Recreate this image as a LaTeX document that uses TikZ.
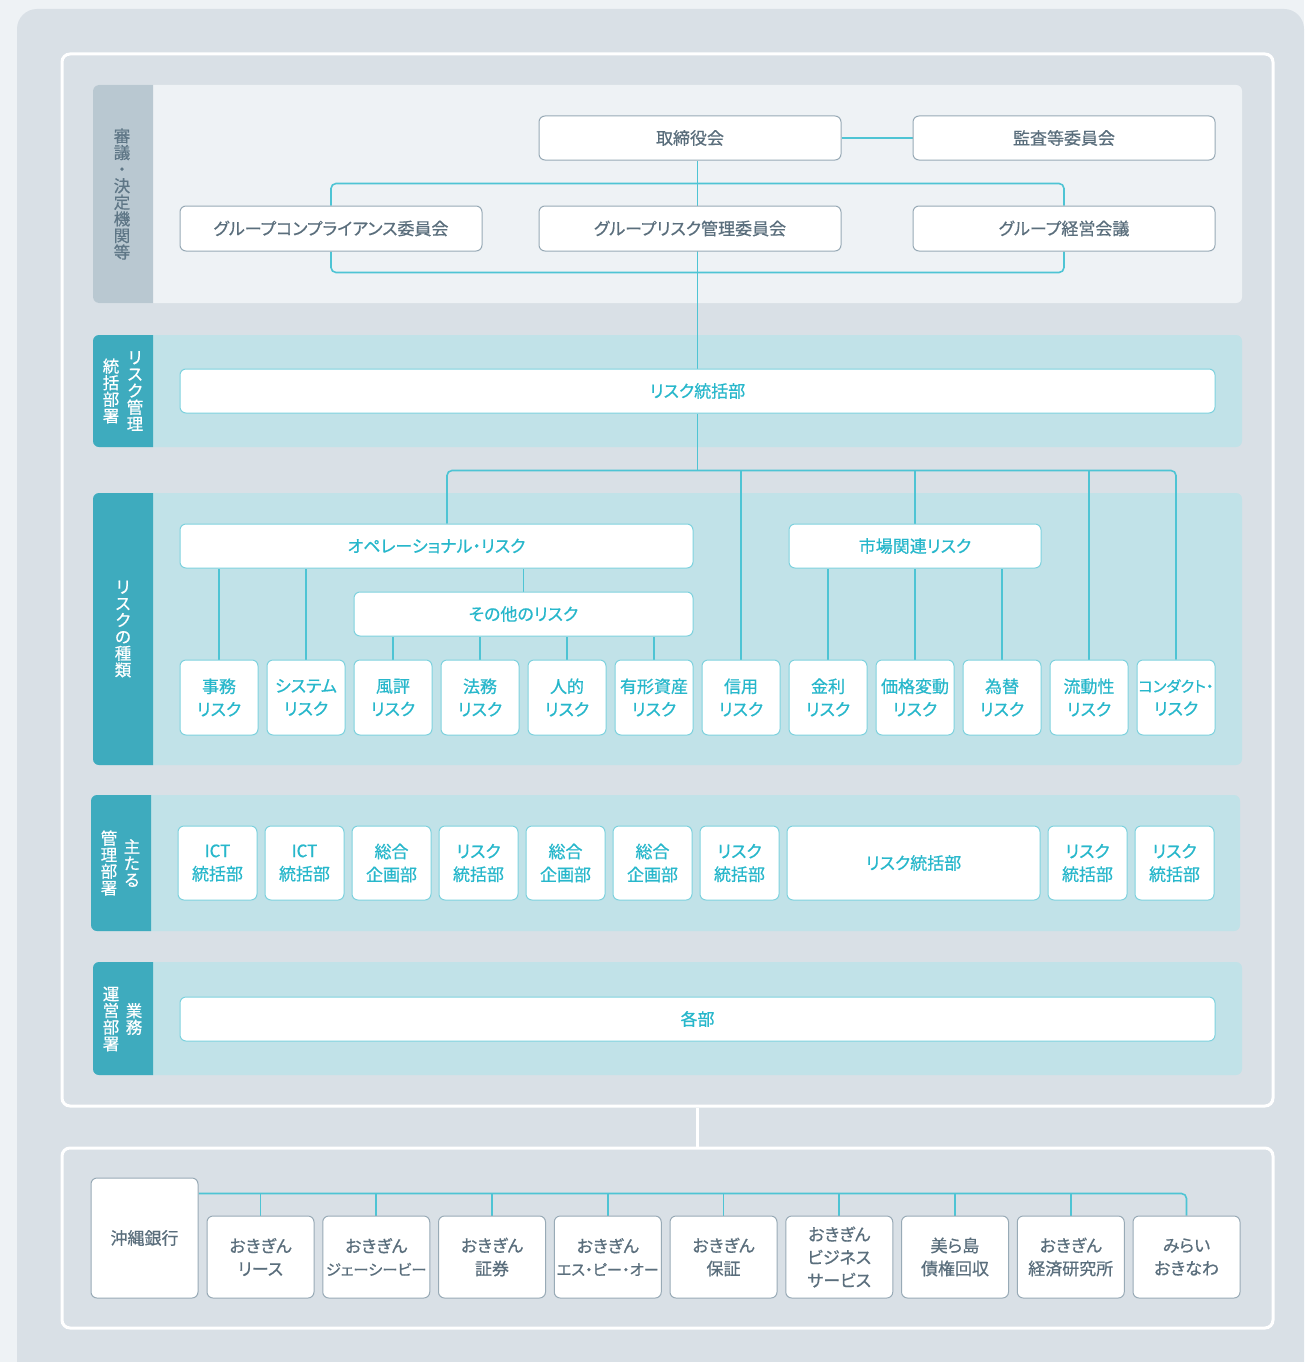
\documentclass[tikz,border=0pt]{standalone}
\usepackage{fontspec}
\usetikzlibrary{calc}
\setmainfont{Noto Sans CJK JP}[RawFeature=+palt, FakeBold=0.6]
\definecolor{pagebg}{HTML}{EEF2F5}
\definecolor{panel}{HTML}{D9E0E6}
\definecolor{bandA}{HTML}{EEF2F5}
\definecolor{labA}{HTML}{B9C8D1}
\definecolor{labAtext}{HTML}{5E7686}
\definecolor{bandT}{HTML}{C1E2E8}
\definecolor{labT}{HTML}{3EABBE}
\definecolor{conn}{HTML}{4EC4D4}
\definecolor{tealline}{HTML}{7ED2DE}
\definecolor{tealtext}{HTML}{27B7CB}
\definecolor{grayline}{HTML}{98AAB6}
\definecolor{graytext}{HTML}{5A6E7C}
\pgfdeclarelayer{back}
\pgfdeclarelayer{lines}
\pgfsetlayers{back,lines,main}
% band with a coloured label column on the left
\newcommand\drawband[6]{%
  \fill[#5, rounded corners=6] (#1,#2) rectangle (#3,#4);
  \begin{scope}
    \clip (#1,#2) rectangle (#1+60,#4);
    \fill[#6, rounded corners=6] (#1,#2) rectangle (#1+80,#4);
  \end{scope}}
\tikzset{
  basebox/.style={fill=white, rounded corners=6, line width=1pt, inner sep=0pt,
    align=center, font=\fontsize{17}{23}\selectfont},
  graybox/.style={basebox, draw=grayline, text=graytext},
  tealbox/.style={basebox, draw=tealline, text=tealtext},
  wide/.style={minimum width=1035, minimum height=44},
  topbox/.style={graybox, minimum width=302, minimum height=44},
  riskbox/.style={tealbox, minimum width=78, minimum height=75},
  deptbox/.style={tealbox, minimum width=79, minimum height=74},
  kidbox/.style={graybox, minimum width=107, minimum height=82},
  link/.style={draw=conn, line width=1.6pt},
  frameline/.style={draw=white, line width=3pt, rounded corners=8},
  tate/.style={align=center, inner sep=0pt, font=\fontsize{16.5}{16.6}\selectfont},
}
\begin{document}
\begin{tikzpicture}[x=1pt, y=-1pt]
\useasboundingbox (0,0) rectangle (1304,1362);

% ---------- backgrounds and bands ----------
\begin{pgfonlayer}{back}
  \fill[pagebg] (0,0) rectangle (1304,1362);
  \fill[panel, rounded corners=20] (17,9) rectangle (1304,1400);
  \drawband{93}{85}{1242}{303}{bandA}{labA}
  \drawband{93}{335}{1242}{447}{bandT}{labT}
  \drawband{93}{493}{1242}{765}{bandT}{labT}
  \drawband{91}{795}{1240}{931}{bandT}{labT}
  \drawband{93}{962}{1242}{1075}{bandT}{labT}
\end{pgfonlayer}

% ---------- white frames ----------
\node[frameline, minimum width=1211, minimum height=1052, inner sep=0pt] (upper) at (667.5,580) {};
\node[frameline, minimum width=1211, minimum height=180, inner sep=0pt] (lower) at (667.5,1238) {};

% ---------- band labels (vertical text) ----------
\node[tate, text=labAtext] (labA) at (122,194) {審\\議\\・\\決\\定\\機\\関\\等};
\node[tate, text=white] (labB1) at (135,391) {リ\\ス\\ク\\管\\理};
\node[tate, text=white] (labB2) at (111,391) {統\\括\\部\\署};
\node[tate, text=white] (labC) at (123,629) {リ\\ス\\ク\\の\\種\\類};
\node[tate, text=white] (labD1) at (132,863) {主\\た\\る};
\node[tate, text=white] (labD2) at (109,863) {管\\理\\部\\署};
\node[tate, text=white] (labE1) at (134,1019) {業\\務};
\node[tate, text=white] (labE2) at (111,1019) {運\\営\\部\\署};

% ---------- decision bodies ----------
\node[topbox] (tori) at (690,138) {取締役会};
\node[topbox] (kansa) at (1064,138) {監査等委員会};
\node[topbox, minimum height=45] (gc) at (331,228.5) {グループコンプライアンス委員会};
\node[topbox, minimum height=45] (grm) at (690,228.5) {グループリスク管理委員会};
\node[topbox, minimum height=45] (gm) at (1064,228.5) {グループ経営会議};

% ---------- risk management ----------
\node[tealbox, wide] (risk) at (697.5,391) {リスク統括部};

% ---------- risk categories ----------
\node[tealbox, minimum width=513, minimum height=44] (ope) at (436.5,546) {オペレーショナル・リスク};
\node[tealbox, minimum width=252, minimum height=44] (mkt) at (915,546) {市場関連リスク};
\node[tealbox, minimum width=339, minimum height=44] (other) at (523.5,614) {その他のリスク};

\node[riskbox] (r1) at (219,697.5) {事務\\リスク};
\node[riskbox] (r2) at (306,697.5) {システム\\リスク};
\node[riskbox] (r3) at (393,697.5) {風評\\リスク};
\node[riskbox] (r4) at (480,697.5) {法務\\リスク};
\node[riskbox] (r5) at (567,697.5) {人的\\リスク};
\node[riskbox] (r6) at (654,697.5) {有形資産\\リスク};
\node[riskbox] (r7) at (741,697.5) {信用\\リスク};
\node[riskbox] (r8) at (828,697.5) {金利\\リスク};
\node[riskbox] (r9) at (915,697.5) {価格変動\\リスク};
\node[riskbox] (r10) at (1002,697.5) {為替\\リスク};
\node[riskbox] (r11) at (1089,697.5) {流動性\\リスク};
\node[riskbox] (r12) at (1176,697.5) {{\fontsize{15.3}{23}\selectfont コンダクト・}\\リスク};

% ---------- managing departments ----------
\node[deptbox] (d1) at (217.5,863) {ICT\\統括部};
\node[deptbox] (d2) at (304.5,863) {ICT\\統括部};
\node[deptbox] (d3) at (391.5,863) {総合\\企画部};
\node[deptbox] (d4) at (478.5,863) {リスク\\統括部};
\node[deptbox] (d5) at (565.5,863) {総合\\企画部};
\node[deptbox] (d6) at (652.5,863) {総合\\企画部};
\node[deptbox] (d7) at (739.5,863) {リスク\\統括部};
\node[tealbox, minimum width=253, minimum height=74] (d8) at (913.5,863) {リスク統括部};
\node[deptbox] (d9) at (1087.5,863) {リスク\\統括部};
\node[deptbox] (d10) at (1174.5,863) {リスク\\統括部};

% ---------- operating departments ----------
\node[tealbox, wide] (kakubu) at (697.5,1019) {各部};

% ---------- group companies ----------
\node[graybox, minimum width=107, minimum height=120] (bank) at (144.5,1238) {沖縄銀行};
\node[kidbox] (c1) at (260.5,1257) {おきぎん\\リース};
\node[kidbox] (c2) at (376.25,1257) {おきぎん\\{\fontsize{15.3}{23}\selectfont ジェーシービー}};
\node[kidbox] (c3) at (492,1257) {おきぎん\\証券};
\node[kidbox] (c4) at (607.75,1257) {おきぎん\\{\fontsize{15.3}{23}\selectfont エス・ピー・オー}};
\node[kidbox] (c5) at (723.5,1257) {おきぎん\\保証};
\node[kidbox] (c6) at (839.25,1257) {おきぎん\\ビジネス\\サービス};
\node[kidbox] (c7) at (955,1257) {美ら島\\債権回収};
\node[kidbox] (c8) at (1070.75,1257) {おきぎん\\経済研究所};
\node[kidbox] (c9) at (1186.5,1257) {みらい\\おきなわ};

% ---------- connectors ----------
\begin{pgfonlayer}{lines}
  \draw[frameline, rounded corners=0] (upper.south -| kakubu) -- (lower.north -| kakubu);
  % decision bodies
  \draw[link] (tori.east) -- (kansa.west);
  \draw[link, rounded corners=5] (gc.north) -- ++(0,-22) -| (gm.north);
  \draw[link, rounded corners=5] (gc.south) -- ++(0,21) -| (gm.south);
  \draw[link] (risk.north) -- (risk.north |- tori.south);
  % risk categories bus
  \coordinate (bus) at ($(risk.south)+(0,57)$);
  \draw[link] (risk.south) -- (bus);
  \draw[link, rounded corners=5] ([xshift=10.5pt]ope.north) |- (bus) -| (r12.north);
  \draw[link] (mkt.north) -- (mkt.north |- bus);
  \draw[link] (r7.north) -- (r7.north |- bus);
  \draw[link] (r11.north) -- (r11.north |- bus);
  % operational risk
  \draw[link] (r1.north) -- (r1.north |- ope.south);
  \draw[link] (r2.north) -- (r2.north |- ope.south);
  \draw[link] (other.north) -- (other.north |- ope.south);
  \foreach \k in {r3,r4,r5,r6} \draw[link] (\k.north) -- (\k.north |- other.south);
  % market risk
  \foreach \k in {r8,r9,r10} \draw[link] (\k.north) -- (\k.north |- mkt.south);
  % group companies
  \coordinate (gbus) at ([yshift=-16pt]bank.north east);
  \draw[link, rounded corners=5] (gbus) -| (c9.north);
  \foreach \k in {c1,c2,c3,c4,c5,c6,c7,c8} \draw[link] (\k.north) -- (\k.north |- gbus);
\end{pgfonlayer}
\end{tikzpicture}
\end{document}
